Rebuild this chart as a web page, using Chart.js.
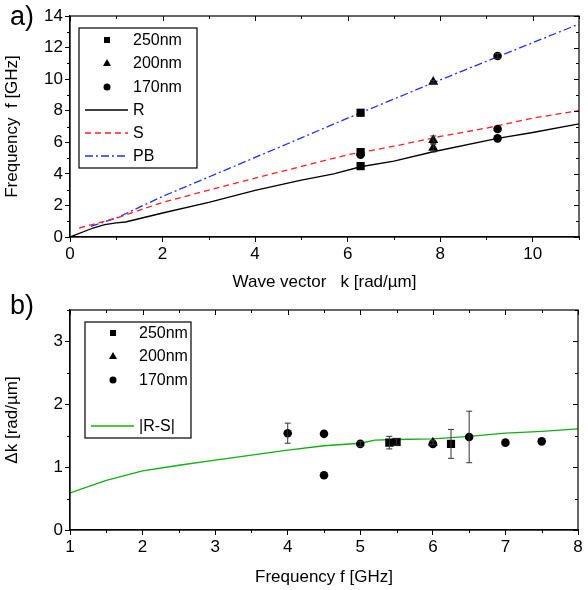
<!DOCTYPE html>
<html lang="en">
<head>
<meta charset="UTF-8">
<title>Dispersion</title>
<script src="https://cdn.jsdelivr.net/npm/chart.js@4.4.0/dist/chart.umd.min.js"></script>
<style>
  body { margin: 0; background: #fff; }
  .wrap { position: absolute; left: 0; width: 588px; height: 295px; }
  .lbl { position: absolute; left: 10px; font: 27px "Liberation Sans", Arial, sans-serif; color: #000; }
</style>
</head>
<body>
<div class="wrap" style="top:0"><canvas id="top" width="588" height="295"></canvas></div>
<div class="wrap" style="top:295px"><canvas id="bot" width="588" height="295"></canvas></div>
<div class="lbl" style="top:1px">a)</div>
<div class="lbl" style="top:290px">b)</div>
<script>
// ---- panel a: dispersion f(k) ----
const kR  = [0, 0.5, 0.75, 1, 1.2, 2, 3, 4, 5, 5.7, 6.28, 7, 7.85, 9.24, 10, 11];
const fR  = [0, 0.57, 0.78, 0.89, 0.95, 1.52, 2.2, 2.95, 3.6, 4.0, 4.45, 4.8, 5.4, 6.25, 6.62, 7.17];
const kS  = [0.2, 0.5, 1, 2, 3, 4, 5, 6, 6.28, 7, 8, 9, 10, 11];
const fS  = [0.57, 0.8, 1.2, 2.19, 2.97, 3.73, 4.47, 5.21, 5.35, 5.75, 6.37, 6.9, 7.53, 8.01];
const kPB = [0.45, 1, 2, 3, 4, 5, 6, 7, 8, 9, 10, 11];
const fPB = [0.67, 1.2, 2.57, 3.8, 5.04, 6.28, 7.53, 8.74, 9.95, 11.13, 12.31, 13.49];

const k250 = [6.28, 6.28, 6.28];
const f250 = [7.87, 5.38, 4.49];
const e250 = [0, 0, 0];
const k200 = [7.85, 7.85, 7.85];
const f200 = [9.83, 6.14, 5.65];
const e200 = [0.08, 0.26, 0.26];
const k170 = [9.24, 9.24, 9.24, 6.28];
const f170 = [11.47, 6.84, 6.25, 5.22];
const e170 = [0.15, 0, 0, 0];

// ---- panel b: delta k vs f ----
const fb250 = [5.4, 5.5, 6.25];
const dk250 = [1.39, 1.40, 1.37];
const eb250 = [0.1, 0.05, 0.23];
const fb200 = [6.0];
const dk200 = [1.39];
const eb200 = [0.03];
const fb170 = [4.0, 4.5, 4.5, 5.0, 6.0, 6.5, 7.0, 7.5];
const dk170 = [1.54, 1.53, 0.87, 1.37, 1.37, 1.48, 1.39, 1.41];
const eb170 = [0.16, 0, 0, 0.04, 0, 0.41, 0, 0];
const fRS  = [1, 1.5, 2, 2.5, 3, 3.5, 4, 4.5, 5, 5.2, 5.5, 6, 6.5, 7, 7.5, 8];
const dkRS = [0.59, 0.79, 0.94, 1.03, 1.11, 1.19, 1.27, 1.34, 1.38, 1.43, 1.44, 1.45, 1.49, 1.54, 1.57, 1.61];

const FONT = '"Liberation Sans", Arial, sans-serif';
const pts = (xs, ys) => xs.map((x, i) => ({x: x, y: ys[i]}));

function markerSet(label, style, xs, ys, errs, r) {
    return {label: label, data: pts(xs, ys), err: errs, pointStyle: style,
        pointRadius: r, pointHoverRadius: r, backgroundColor: '#000', borderColor: '#000', borderWidth: 0, showLine: false};
}
function lineSet(label, xs, ys, color, dash) {
    return {label: label, data: pts(xs, ys), showLine: true, borderColor: color, borderWidth: 1.3,
        borderDash: dash, pointRadius: 0, fill: false, tension: 0};
}

// error bars, frame with mirrored + minor ticks, inside legend
const extras = {
    id: 'extras',
    afterDatasetsDraw(chart) {
        const ctx = chart.ctx, xs = chart.scales.x, ys = chart.scales.y;
        ctx.save();
        ctx.strokeStyle = '#333';
        ctx.lineWidth = 1;
        chart.data.datasets.forEach(ds => {
            if (!ds.err) return;
            ds.data.forEach((p, i) => {
                const e = ds.err[i];
                if (!e) return;
                const x = xs.getPixelForValue(p.x);
                const y1 = ys.getPixelForValue(p.y - e), y2 = ys.getPixelForValue(p.y + e);
                ctx.beginPath();
                ctx.moveTo(x, y1); ctx.lineTo(x, y2);
                ctx.moveTo(x - 3, y1); ctx.lineTo(x + 3, y1);
                ctx.moveTo(x - 3, y2); ctx.lineTo(x + 3, y2);
                ctx.stroke();
            });
        });
        ctx.restore();
    },
    afterDraw(chart, args, opts) {
        const ctx = chart.ctx, a = chart.chartArea, xs = chart.scales.x, ys = chart.scales.y;
        ctx.save();
        ctx.strokeStyle = '#000';
        ctx.lineWidth = 1.2;
        ctx.strokeRect(a.left, a.top, a.right - a.left, a.bottom - a.top);
        ctx.lineWidth = 1;
        ctx.beginPath();
        for (let v = xs.min; v <= xs.max + 1e-9; v += opts.xMinor) {
            const x = Math.round(xs.getPixelForValue(v)) + 0.5;
            const major = Math.abs(v / opts.xMajor - Math.round(v / opts.xMajor)) < 1e-6;
            const len = major ? 5 : 3;
            ctx.moveTo(x, a.top); ctx.lineTo(x, a.top + len);
            if (!major) { ctx.moveTo(x, a.bottom); ctx.lineTo(x, a.bottom + len); }
        }
        for (let v = ys.min; v <= ys.max + 1e-9; v += opts.yMinor) {
            const y = Math.round(ys.getPixelForValue(v)) + 0.5;
            const major = Math.abs(v / opts.yMajor - Math.round(v / opts.yMajor)) < 1e-6;
            const len = major ? 5 : 3;
            ctx.moveTo(a.right, y); ctx.lineTo(a.right - len, y);
            if (!major) { ctx.moveTo(a.left, y); ctx.lineTo(a.left - len, y); }
        }
        ctx.stroke();

        // legend box
        const L = opts.legend;
        ctx.lineWidth = 1.2;
        ctx.strokeRect(L.x, L.y, L.w, L.h);
        ctx.font = '16px ' + FONT;
        ctx.fillStyle = '#000';
        ctx.textBaseline = 'middle';
        chart.data.datasets.forEach((ds, i) => {
            const y = L.rows[i];
            if (ds.showLine) {
                ctx.strokeStyle = ds.borderColor;
                ctx.lineWidth = 1.3;
                ctx.setLineDash(ds.borderDash || []);
                ctx.beginPath();
                ctx.moveTo(L.x + 6, y); ctx.lineTo(L.x + 49, y);
                ctx.stroke();
                ctx.setLineDash([]);
                ctx.fillStyle = '#000';
                ctx.fillText(ds.label, L.x + 54, y + 1);
            } else {
                ctx.fillStyle = '#000';
                const mx = L.x + 28;
                ctx.beginPath();
                if (ds.pointStyle === 'rect') ctx.rect(mx - 3, y - 3, 6, 6);
                else if (ds.pointStyle === 'triangle') { ctx.moveTo(mx, y - 4); ctx.lineTo(mx + 4, y + 3); ctx.lineTo(mx - 4, y + 3); ctx.closePath(); }
                else ctx.arc(mx, y, 3.5, 0, Math.PI * 2);
                ctx.fill();
                ctx.fillText(ds.label, L.x + 54, y + 1);
            }
        });
        ctx.restore();
    }
};

function axis(min, max, step, title, fix) {
    return {
        type: 'linear', min: min, max: max,
        ticks: {stepSize: step, color: '#000', font: {family: FONT, size: 17}, padding: 2},
        grid: {drawOnChartArea: false, tickLength: 5, color: '#000', tickColor: '#000'},
        border: {display: true, color: '#000', width: 1.2},
        title: {display: true, text: title, color: '#000', font: {family: FONT, size: 17}, padding: {top: 2, bottom: 2}},
        afterBuildTicks: s => { s.ticks = s.ticks.filter(t => Math.abs(t.value / step - Math.round(t.value / step)) < 1e-6); },
        afterFit: fix
    };
}

new Chart(document.getElementById('top'), {
    type: 'scatter',
    data: {
        datasets: [
            markerSet('250nm', 'rect', k250, f250, e250, 5.8),
            markerSet('200nm', 'triangle', k200, f200, e200, 5.8),
            markerSet('170nm', 'circle', k170, f170, e170, 4.3),
            lineSet('R', kR, fR, '#000', []),
            lineSet('S', kS, fS, '#ff2020', [6, 4]),
            lineSet('PB', kPB, fPB, '#2030ff', [8, 3, 2, 3])
        ]
    },
    options: {
        responsive: false, animation: false, events: [],
        layout: {padding: {left: 0, right: 9, top: 16, bottom: 0}},
        scales: {
            x: axis(0, 11, 2, 'Wave vector   k [rad/\u00b5m]', s => { s.height = 58; }),
            y: axis(0, 14, 2, 'Frequency  f [GHz]', s => { s.width = 70; })
        },
        plugins: {
            legend: {display: false}, tooltip: {enabled: false},
            extras: {xMajor: 2, xMinor: 1, yMajor: 2, yMinor: 1,
                legend: {x: 79, y: 28, w: 118, h: 140, rows: [40, 63, 87, 110, 133, 156]}}
        }
    },
    plugins: [extras]
});

new Chart(document.getElementById('bot'), {
    type: 'scatter',
    data: {
        datasets: [
            markerSet('250nm', 'rect', fb250, dk250, eb250, 5.8),
            markerSet('200nm', 'triangle', fb200, dk200, eb200, 5.8),
            markerSet('170nm', 'circle', fb170, dk170, eb170, 4.3),
            lineSet('|R-S|', fRS, dkRS, '#10b010', [])
        ]
    },
    options: {
        responsive: false, animation: false, events: [],
        layout: {padding: {left: 0, right: 10, top: 15, bottom: 0}},
        scales: {
            x: axis(1, 8, 1, 'Frequency f [GHz]', s => { s.height = 60; }),
            y: axis(0, 3.5, 1, '\u0394k [rad/\u00b5m]', s => { s.width = 70; })
        },
        plugins: {
            legend: {display: false}, tooltip: {enabled: false},
            extras: {xMajor: 1, xMinor: 0.5, yMajor: 1, yMinor: 0.5,
                legend: {x: 85, y: 27, w: 106, h: 116, rows: [38, 61, 85, 131]}}
        }
    },
    plugins: [extras]
});
</script>
</body>
</html>
